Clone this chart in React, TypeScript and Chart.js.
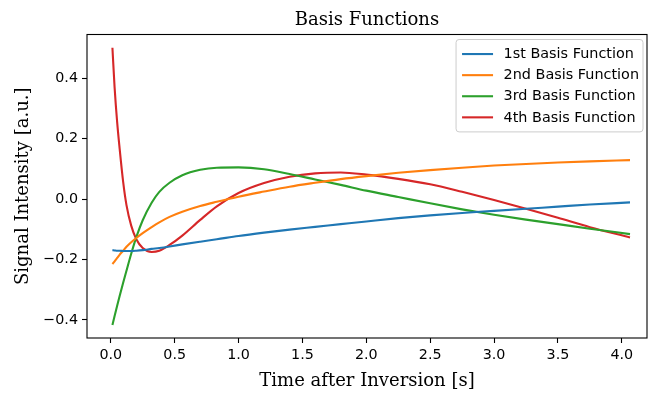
import React, { useEffect, useRef } from "react";
import { Chart, registerables } from "chart.js";

Chart.register(...registerables);

// Sample times after inversion (s), shared by all four basis functions
const timeS = [
  0.013, 0.03, 0.05, 0.07, 0.097, 0.123, 0.16, 0.2, 0.25, 0.32, 0.38, 0.46, 0.56, 0.7,
  0.83, 1.0, 1.2, 1.4, 1.6, 1.8, 2.0, 2.25, 2.5, 2.75, 3.0, 3.25, 3.5, 3.75, 4.064,
];

const basis1 = [
  -0.169, -0.17, -0.171, -0.171, -0.172, -0.172, -0.172, -0.171, -0.169, -0.165, -0.162,
  -0.157, -0.15, -0.141, -0.133, -0.122, -0.111, -0.101, -0.092, -0.083, -0.074, -0.063,
  -0.054, -0.046, -0.039, -0.032, -0.025, -0.018, -0.011,
];

const basis2 = [
  -0.215, -0.206, -0.195, -0.184, -0.171, -0.158, -0.143, -0.129, -0.113, -0.093, -0.077,
  -0.059, -0.042, -0.023, -0.009, 0.008, 0.025, 0.041, 0.054, 0.066, 0.076, 0.087, 0.096,
  0.104, 0.111, 0.116, 0.121, 0.125, 0.129,
];

const basis3 = [
  -0.417, -0.387, -0.353, -0.32, -0.277, -0.237, -0.181, -0.126, -0.07, -0.012, 0.024,
  0.054, 0.079, 0.097, 0.104, 0.105, 0.099, 0.083, 0.065, 0.047, 0.028, 0.007, -0.014,
  -0.034, -0.052, -0.068, -0.083, -0.098, -0.116,
];

const basis4 = [
  0.501, 0.37, 0.255, 0.165, 0.057, -0.02, -0.088, -0.133, -0.162, -0.175, -0.171, -0.152,
  -0.121, -0.069, -0.024, 0.02, 0.053, 0.074, 0.085, 0.088, 0.081, 0.067, 0.049, 0.024,
  -0.003, -0.032, -0.062, -0.093, -0.127,
];

const seriesLabels = [
  "1st Basis Function",
  "2nd Basis Function",
  "3rd Basis Function",
  "4th Basis Function",
];
const seriesValues = [basis1, basis2, basis3, basis4];
const seriesColors = ["#1f77b4", "#ff7f0e", "#2ca02c", "#d62728"];

const chartTitle = "Basis Functions";
const xTicks = [0, 0.5, 1, 1.5, 2, 2.5, 3, 3.5, 4];
const yTicks = [-0.4, -0.2, 0, 0.2, 0.4];

const SANS = "'DejaVu Sans', sans-serif";
const SERIF = "'DejaVu Serif', serif";

const fmt = (v: number) => v.toFixed(1).replace("-", "\u2212");

// Black frame on all four sides of the plotting area
const framePlugin = {
  id: "frame",
  afterDatasetsDraw(chart: any) {
    const { ctx, chartArea: a } = chart;
    ctx.save();
    ctx.strokeStyle = "#000";
    ctx.lineWidth = 1.1;
    ctx.strokeRect(a.left, a.top, a.right - a.left, a.bottom - a.top);
    ctx.restore();
  },
};

// Title centred over the plotting area rather than the whole canvas
const axesTitlePlugin = {
  id: "axesTitle",
  afterDraw(chart: any) {
    const { ctx, chartArea: a } = chart;
    ctx.save();
    ctx.font = `18px ${SERIF}`;
    ctx.fillStyle = "#000";
    ctx.textAlign = "center";
    ctx.textBaseline = "alphabetic";
    ctx.fillText(chartTitle, (a.left + a.right) / 2, a.top - 9.5);
    ctx.restore();
  },
};

// Legend box in the upper-right corner inside the plotting area
const insideLegendPlugin = {
  id: "insideLegend",
  afterDraw(chart: any) {
    const { ctx, chartArea: a } = chart;
    const fontSize = 14.4;
    const rowH = 21.1;
    const padL = 6;
    const handle = 31;
    const gap = 10.5;
    const padR = 4;
    const padV = 4;
    ctx.save();
    ctx.font = `${fontSize}px ${SANS}`;
    const ds = chart.data.datasets;
    let maxW = 0;
    ds.forEach((d: any) => {
      maxW = Math.max(maxW, ctx.measureText(d.label).width);
    });
    const w = padL + handle + gap + maxW + padR;
    const h = padV * 2 + rowH * ds.length;
    const right = a.right - 4;
    const left = right - w;
    const top = a.top + 5;
    const r = 3;
    ctx.beginPath();
    ctx.moveTo(left + r, top);
    ctx.lineTo(left + w - r, top);
    ctx.quadraticCurveTo(left + w, top, left + w, top + r);
    ctx.lineTo(left + w, top + h - r);
    ctx.quadraticCurveTo(left + w, top + h, left + w - r, top + h);
    ctx.lineTo(left + r, top + h);
    ctx.quadraticCurveTo(left, top + h, left, top + h - r);
    ctx.lineTo(left, top + r);
    ctx.quadraticCurveTo(left, top, left + r, top);
    ctx.closePath();
    ctx.fillStyle = "rgba(255,255,255,0.8)";
    ctx.fill();
    ctx.strokeStyle = "#cccccc";
    ctx.lineWidth = 1;
    ctx.stroke();
    ds.forEach((d: any, i: number) => {
      const cy = top + padV + rowH * (i + 0.5);
      ctx.strokeStyle = d.borderColor;
      ctx.lineWidth = 2.1;
      ctx.beginPath();
      ctx.moveTo(left + padL, cy);
      ctx.lineTo(left + padL + handle, cy);
      ctx.stroke();
      ctx.fillStyle = "#000";
      ctx.textBaseline = "middle";
      ctx.textAlign = "left";
      ctx.fillText(d.label, left + padL + handle + gap, cy + 0.5);
    });
    ctx.restore();
  },
};

export default function App() {
  const canvasRef = useRef<HTMLCanvasElement | null>(null);

  useEffect(() => {
    const canvas = canvasRef.current;
    if (!canvas) return;
    const chart = new Chart(canvas, {
      type: "line",
      data: {
        datasets: seriesValues.map((vals, i) => ({
          label: seriesLabels[i],
          data: timeS.map((t, j) => ({ x: t, y: vals[j] })),
          borderColor: seriesColors[i],
          backgroundColor: seriesColors[i],
          borderWidth: 2.1,
          pointRadius: 0,
          fill: false,
          cubicInterpolationMode: "monotone" as const,
        })),
      },
      plugins: [framePlugin, axesTitlePlugin, insideLegendPlugin],
      options: {
        responsive: false,
        animation: false,
        devicePixelRatio: 1,
        layout: { padding: { left: 0, right: 1, top: 34.5, bottom: 0 } },
        plugins: {
          legend: { display: false },
          tooltip: { enabled: false },
          title: { display: false },
        },
        scales: {
          x: {
            type: "linear",
            min: -0.186,
            max: 4.197,
            afterBuildTicks: (scale: any) => {
              scale.ticks = xTicks.map((v) => ({ value: v }));
            },
            afterFit: (scale: any) => {
              scale.height = 56;
            },
            border: { display: false },
            grid: {
              display: true,
              drawOnChartArea: false,
              drawTicks: true,
              tickLength: 5,
              tickColor: "#000",
              tickWidth: 1.1,
            },
            ticks: {
              color: "#000",
              font: { family: SANS, size: 14.3 },
              padding: 4,
              maxRotation: 0,
              autoSkip: false,
              callback: (v: any) => fmt(Number(v)),
            },
            title: {
              display: true,
              text: "Time after Inversion [s]",
              color: "#000",
              font: { family: SERIF, size: 18, weight: "normal" },
              padding: { top: 0, bottom: 2.2 },
            },
          },
          y: {
            type: "linear",
            min: -0.46,
            max: 0.545,
            afterBuildTicks: (scale: any) => {
              scale.ticks = yTicks.map((v) => ({ value: v }));
            },
            afterFit: (scale: any) => {
              scale.width = 87;
            },
            border: { display: false },
            grid: {
              display: true,
              drawOnChartArea: false,
              drawTicks: true,
              tickLength: 5,
              tickColor: "#000",
              tickWidth: 1.1,
            },
            ticks: {
              color: "#000",
              font: { family: SANS, size: 14.3 },
              padding: 4,
              autoSkip: false,
              callback: (v: any) => fmt(Number(v)),
            },
            title: {
              display: true,
              text: "Signal Intensity [a.u.]",
              color: "#000",
              font: { family: SERIF, size: 18, weight: "normal" },
              padding: { top: 13, bottom: 0 },
            },
          },
        },
      },
    });
    return () => chart.destroy();
  }, []);

  return (
    <div style={{ position: "absolute", left: 0, top: 0, width: 648, height: 394, background: "#fff" }}>
      <canvas ref={canvasRef} width={648} height={394} style={{ display: "block" }} />
    </div>
  );
}
